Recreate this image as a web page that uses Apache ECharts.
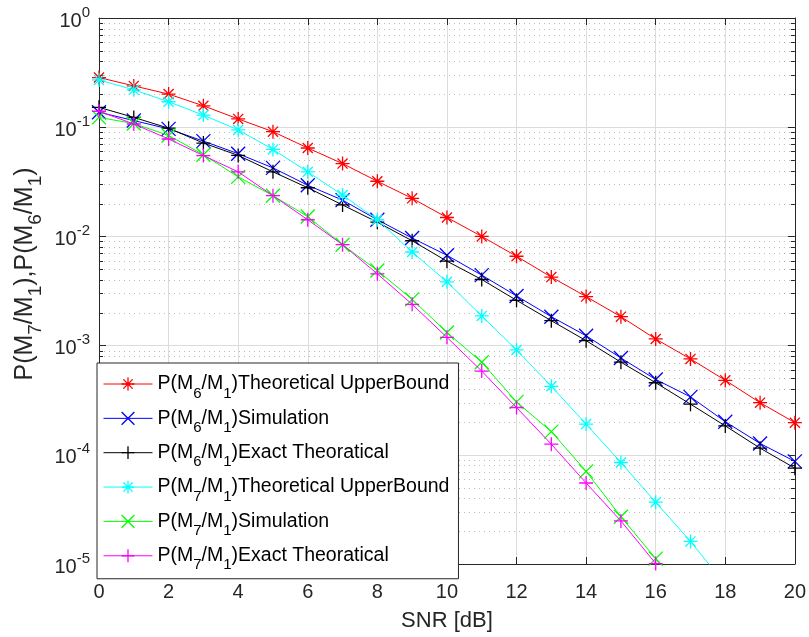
<!DOCTYPE html>
<html><head><meta charset="utf-8">
<script src="https://cdn.jsdelivr.net/npm/echarts@6/dist/echarts.min.js"></script>
<style>html,body{margin:0;padding:0;background:#fff}#c{width:809px;height:637px}</style>
</head><body><div id="c"></div>
<script>
// ---- data ----
const snr = [0,1,2,3,4,5,6,7,8,9,10,11,12,13,14,15,16,17,18,19,20];
const xTicks = [0,2,4,6,8,10,12,14,16,18,20];
const yTickExponents = [-5,-4,-3,-2,-1,0];

const ub6  = [0.285,0.239,0.201,0.157,0.119,0.091,0.0645,0.0464,0.032,0.0223,0.0149,0.0100,0.00658,0.00424,0.00281,0.00184,0.00115,0.000755,0.000481,0.000300,0.000197];
const sim6 = [0.137,0.115,0.0965,0.0746,0.0572,0.0424,0.0294,0.0215,0.0142,0.00966,0.00671,0.00442,0.00285,0.00184,0.00123,0.00077,0.00049,0.000339,0.000201,0.000127,0.000087];
const ex6  = [0.152,0.123,0.098,0.0716,0.0552,0.039,0.0279,0.0194,0.0135,0.00912,0.00593,0.00403,0.0026,0.00169,0.00111,0.000705,0.000457,0.000291,0.000184,0.000115,0.0000755];
const ub7  = [0.271,0.22,0.171,0.129,0.0945,0.0626,0.039,0.0239,0.0142,0.0072,0.00384,0.00187,0.000912,0.000424,0.000191,0.000085,0.0000368,0.0000161,0.0000065];
const sim7 = [0.123,0.108,0.084,0.056,0.0351,0.0236,0.0152,0.0084,0.00487,0.00265,0.00132,0.000705,0.000305,0.000163,0.0000705,0.0000271,0.0000112,0.000004];
const ex7  = [0.140,0.107,0.078,0.055,0.039,0.0236,0.0142,0.0084,0.00454,0.00239,0.00119,0.000584,0.000271,0.000125,0.0000552,0.0000248,0.0000101,0.0000037];

const names = [
  'P(M6/M1)Theoretical UpperBound',
  'P(M6/M1)Simulation',
  'P(M6/M1)Exact Theoratical',
  'P(M7/M1)Theoretical UpperBound',
  'P(M7/M1)Simulation',
  'P(M7/M1)Exact Theoratical'
];
const values = [ub6, sim6, ex6, ub7, sim7, ex7];
const colors = ['#ff0000','#0000ff','#000000','#00ffff','#00ff00','#ff00ff'];

// minor log positions (2..9 x 10^k)
const yMinorTicks = [];
for (let e = yTickExponents[0]; e < yTickExponents[yTickExponents.length - 1]; e++)
  for (let m = 2; m <= 9; m++) yMinorTicks.push(+(m * Math.pow(10, e)).toPrecision(3));

const STAR  = 'path://M0,-1L0,1M-1,0L1,0M-0.72,-0.72L0.72,0.72M-0.72,0.72L0.72,-0.72';
const CROSS = 'path://M-1,-1L1,1M-1,1L1,-1';
const PLUS  = 'path://M0,-1L0,1M-1,0L1,0';
const symbols = [STAR, CROSS, PLUS, STAR, CROSS, PLUS];

const FONT = "'Liberation Sans', Arial, Helvetica, sans-serif";
const AX = '#262626';

function legendFmt(name) {
  const m = name.match(/^P\(M(\d)\/M(\d)\)(.*)$/);
  return '{b|P(M}{s|' + m[1] + '}{b|/M}{s|' + m[2] + '}{b|)' + m[3] + '}';
}

const chart = echarts.init(document.getElementById('c'), null, {renderer: 'canvas'});

const lineSeries = names.map((n, k) => ({
  name: n,
  type: 'line',
  xAxisIndex: 0, yAxisIndex: 0,
  data: values[k].map((v, i) => [snr[i], v]),
  symbol: symbols[k],
  symbolSize: 14,
  showAllSymbol: true,
  itemStyle: {color: 'none', borderColor: colors[k], borderWidth: 1.3},
  lineStyle: {color: colors[k], width: 1},
  emphasis: {disabled: true},
  clip: true,
  z: 3 + k
}));

const minorSeries = {
  type: 'custom',
  xAxisIndex: 0, yAxisIndex: 0,
  silent: true,
  z: 1,
  data: yMinorTicks.map(v => [snr[0], v]),
  renderItem: function (params, api) {
    const v = api.value(1);
    const p0 = api.coord([snr[0], v]);
    const p1 = api.coord([snr[snr.length - 1], v]);
    const y = Math.round(p0[1]) + 0.5;
    return {
      type: 'group',
      children: [
        {type: 'line', shape: {x1: p0[0], y1: y, x2: p1[0], y2: y}, style: {stroke: '#bdbdbd', lineWidth: 1, lineDash: [1, 4]}},
        {type: 'line', shape: {x1: p0[0], y1: y, x2: p0[0] + 4, y2: y}, style: {stroke: AX, lineWidth: 1}},
        {type: 'line', shape: {x1: p1[0] - 4, y1: y, x2: p1[0], y2: y}, style: {stroke: AX, lineWidth: 1}}
      ]
    };
  }
};

const yLabelFmt = function (v) {
  const e = Math.round(Math.log10(v));
  return '{b|10}{s|' + e + '}';
};

const option = {
  animation: false,
  backgroundColor: '#ffffff',
  textStyle: {fontFamily: FONT},
  grid: {left: 99, right: 14, top: 18, bottom: 69, containLabel: false},
  xAxis: [{
    type: 'value', position: 'bottom', min: xTicks[0], max: xTicks[xTicks.length - 1], interval: 2,
    axisLine: {show: true, onZero: false, lineStyle: {color: AX, width: 1}},
    axisTick: {show: true, inside: true, length: 7, lineStyle: {color: AX}},
    axisLabel: {show: true, fontSize: 20, color: AX, margin: 18, fontFamily: FONT},
    splitLine: {show: true, lineStyle: {color: '#dcdcdc', width: 1}},
    name: 'SNR [dB]', nameLocation: 'middle', nameGap: 46,
    nameTextStyle: {fontSize: 22, color: AX, fontFamily: FONT}
  }, {
    type: 'value', position: 'top', min: xTicks[0], max: xTicks[xTicks.length - 1], interval: 2,
    axisLine: {show: true, onZero: false, lineStyle: {color: AX, width: 1}},
    axisTick: {show: true, inside: true, length: 7, lineStyle: {color: AX}},
    axisLabel: {show: false},
    splitLine: {show: false}
  }],
  yAxis: [{
    type: 'log', logBase: 10, position: 'left', min: 1e-5, max: 1,
    axisLine: {show: true, onZero: false, lineStyle: {color: AX, width: 1}},
    axisTick: {show: true, inside: true, length: 7, lineStyle: {color: AX}},
    axisLabel: {
      show: true, margin: 9, color: AX, formatter: yLabelFmt,
      rich: {
        b: {fontSize: 20, lineHeight: 26, verticalAlign: 'bottom', color: AX, fontFamily: FONT},
        s: {fontSize: 15, lineHeight: 15, verticalAlign: 'top', color: AX, fontFamily: FONT}
      }
    },
    splitLine: {show: true, lineStyle: {color: '#dcdcdc', width: 1}}
  }, {
    type: 'log', logBase: 10, position: 'right', min: 1e-5, max: 1,
    axisLine: {show: true, onZero: false, lineStyle: {color: AX, width: 1}},
    axisTick: {show: true, inside: true, length: 7, lineStyle: {color: AX}},
    axisLabel: {show: false},
    splitLine: {show: false}
  }],
  legend: {
    orient: 'vertical', left: 97, top: 363,
    padding: [4, 9, 6, 6], itemGap: 0.35, itemWidth: 49, itemHeight: 16,
    backgroundColor: '#ffffff', borderColor: AX, borderWidth: 1, borderRadius: 0,
    data: names, formatter: legendFmt, selectedMode: false,
    itemStyle: {borderWidth: 1.3}, lineStyle: {width: 1},
    textStyle: {
      color: '#000', lineHeight: 34, fontSize: 19.5,
      rich: {
        b: {fontSize: 19.5, lineHeight: 34, verticalAlign: 'middle', color: '#000', fontFamily: FONT},
        s: {fontSize: 15, lineHeight: 15, verticalAlign: 'bottom', color: '#000', fontFamily: FONT}
      }
    },
    z: 20
  },
  graphic: [{
    type: 'text', x: 25, y: 274, rotation: Math.PI / 2, z: 10,
    style: {
      text: '{b|P(M}{s|7}{b|/M}{s|1}{b|),P(M}{s|6}{b|/M}{s|1}{b|)}',
      align: 'center', verticalAlign: 'middle',
      rich: {
        b: {fontSize: 25, lineHeight: 40, verticalAlign: 'middle', fill: AX, fontFamily: FONT},
        s: {fontSize: 19, lineHeight: 19, verticalAlign: 'bottom', fill: AX, fontFamily: FONT}
      }
    }
  }],
  series: [minorSeries].concat(lineSeries)
};
chart.setOption(option);
</script>
</body></html>
